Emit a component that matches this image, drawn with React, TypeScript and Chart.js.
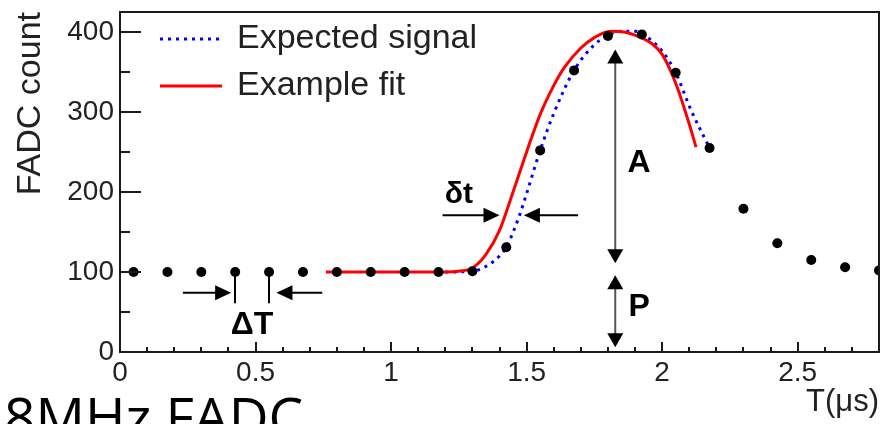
import React, { useEffect, useRef } from "react";
import { Chart, registerables } from "chart.js";

Chart.register(...registerables);

// ---- data ----
const sampleTimes = [0.05, 0.175, 0.3, 0.425, 0.55, 0.675, 0.8, 0.925, 1.05, 1.175, 1.3, 1.425, 1.55, 1.675, 1.8, 1.925, 2.05, 2.175, 2.3, 2.425, 2.55, 2.675, 2.8];
const sampleCounts = [100, 100, 100, 100, 100, 100, 100, 100, 100, 100, 101, 131, 252, 352, 395, 397, 349, 255, 179, 136, 115, 106, 102];

const expectedTimes = [1.2, 1.3, 1.35, 1.4, 1.425, 1.475, 1.5, 1.55, 1.6, 1.675, 1.75, 1.8, 1.85, 1.9, 1.925, 2.0, 2.05, 2.107, 2.175];
const expectedCounts = [100, 101, 107, 120, 131, 172, 198, 252, 298, 352, 384, 396, 401, 401, 398, 376, 349, 302, 255];

const fitTimes = [0.76, 1.0, 1.2, 1.25, 1.3, 1.35, 1.4, 1.45, 1.5, 1.55, 1.6, 1.64, 1.7, 1.75, 1.81, 1.86, 1.9, 1.96, 2.0, 2.05, 2.1, 2.125];
const fitCounts = [100, 100, 100, 101, 105, 122, 152, 200, 250, 297, 333, 356, 380, 393, 401, 400, 396, 386, 372, 336, 285, 256];

const legendLabels = ["Expected signal", "Example fit"];
const xTitle = "T(μs)";
const yTitle = "FADC count";
const footerText = "8MHz FADC";

const xMin = 0, xMax = 2.8, xMajor = 0.5, xMinor = 0.1;
const yMin = 0, yMax = 425, yMajor = 100, yMinor = 50;

// annotation anchors (data units)
const deltaTMarkers = [0.425, 0.55];
const deltaTMarkerRange = [100, 61];
const deltaTArrowY = 74;
const deltaTArrows = [[0.232, 0.41], [0.746, 0.577]]; // [tail, tip]
const deltaTLabel = { text: "ΔT", x: 0.487, y: 34 };
const smallDtArrowY = 171;
const smallDtArrows = [[1.19, 1.40], [1.69, 1.49]];
const smallDtLabel = { text: "δt", x: 1.25, y: 197 };
const ampX = 1.827;
const ampArrow = [111, 378]; // bottom tip, top tip
const pedArrow = [6, 96];
const ampLabel = { text: "A", x: 1.915, y: 236 };
const pedLabel = { text: "P", x: 1.915, y: 56 };

const AXIS = "#1a1a1a";
const TEXT = "#222";
const SANS = '"Liberation Sans", Arial, Helvetica, sans-serif';

function head(ctx: CanvasRenderingContext2D, tx: number, ty: number, dx: number, dy: number, len: number, half: number) {
  const bx = tx - dx * len, by = ty - dy * len;
  const px = -dy, py = dx;
  ctx.beginPath();
  ctx.moveTo(tx, ty);
  ctx.lineTo(bx + px * half, by + py * half);
  ctx.lineTo(bx - px * half, by - py * half);
  ctx.closePath();
  ctx.fill();
}

function arrow(ctx: CanvasRenderingContext2D, x1: number, y1: number, x2: number, y2: number, color: string, len = 16, half = 7.5) {
  const L = Math.hypot(x2 - x1, y2 - y1);
  const dx = (x2 - x1) / L, dy = (y2 - y1) / L;
  ctx.strokeStyle = color;
  ctx.lineWidth = 2;
  ctx.beginPath();
  ctx.moveTo(x1, y1);
  ctx.lineTo(x2 - dx * len * 0.8, y2 - dy * len * 0.8);
  ctx.stroke();
  ctx.fillStyle = "#000";
  head(ctx, x2, y2, dx, dy, len, half);
}

function doubleArrow(ctx: CanvasRenderingContext2D, x: number, yA: number, yB: number, color: string) {
  const len = 14, half = 8;
  ctx.strokeStyle = color;
  ctx.lineWidth = 2;
  ctx.beginPath();
  ctx.moveTo(x, yB + len * 0.8);
  ctx.lineTo(x, yA - len * 0.8);
  ctx.stroke();
  ctx.fillStyle = "#000";
  head(ctx, x, yA, 0, 1, len, half);
  head(ctx, x, yB, 0, -1, len, half);
}

const decor = {
  id: "decor",
  afterDatasetsDraw(chart: any) {
    const { ctx, chartArea: ca } = chart;
    const xs = chart.scales.x, ys = chart.scales.y;
    const X = (v: number) => xs.getPixelForValue(v);
    const Y = (v: number) => ys.getPixelForValue(v);
    ctx.save();

    // frame
    ctx.strokeStyle = AXIS;
    ctx.lineWidth = 2;
    ctx.beginPath();
    ctx.moveTo(ca.left, ca.top);
    ctx.lineTo(ca.right, ca.top);
    ctx.lineTo(ca.right, ca.bottom);
    ctx.stroke();

    // inward ticks
    ctx.lineWidth = 2;
    ctx.beginPath();
    const nx = Math.round((xMax - xMin) / xMinor);
    for (let i = 0; i <= nx; i++) {
      const v = xMin + i * xMinor;
      const major = Math.abs(v / xMajor - Math.round(v / xMajor)) < 1e-6;
      const px = Math.round(X(v));
      ctx.moveTo(px, ca.bottom);
      ctx.lineTo(px, ca.bottom - (major ? 10 : 5));
    }
    const ny = Math.floor((yMax - yMin) / yMinor);
    for (let i = 0; i <= ny; i++) {
      const v = yMin + i * yMinor;
      const major = v % yMajor === 0;
      const py = Math.round(Y(v));
      ctx.moveTo(ca.left, py);
      ctx.lineTo(ca.left + (major ? 21 : 10), py);
    }
    ctx.stroke();

    // legend
    const lx0 = ca.left + 40, lx1 = ca.left + 102;
    ctx.lineWidth = 3;
    ctx.strokeStyle = "#0000ff";
    ctx.setLineDash([3, 5]);
    ctx.beginPath();
    ctx.moveTo(lx0, ca.top + 27);
    ctx.lineTo(lx1, ca.top + 27);
    ctx.stroke();
    ctx.setLineDash([]);
    ctx.strokeStyle = "#ff0000";
    ctx.beginPath();
    ctx.moveTo(lx0, ca.top + 74);
    ctx.lineTo(lx1, ca.top + 74);
    ctx.stroke();
    ctx.fillStyle = TEXT;
    ctx.font = `34px ${SANS}`;
    ctx.textAlign = "left";
    ctx.textBaseline = "alphabetic";
    ctx.fillText(legendLabels[0], ca.left + 117, ca.top + 36);
    ctx.fillText(legendLabels[1], ca.left + 117, ca.top + 83);

    // ΔT markers and arrows
    ctx.strokeStyle = "#000";
    ctx.lineWidth = 2;
    ctx.beginPath();
    for (const m of deltaTMarkers) {
      ctx.moveTo(Math.round(X(m)), Y(deltaTMarkerRange[0]));
      ctx.lineTo(Math.round(X(m)), Y(deltaTMarkerRange[1]));
    }
    ctx.stroke();
    for (const [a, b] of deltaTArrows) arrow(ctx, X(a), Y(deltaTArrowY), X(b), Y(deltaTArrowY), "#000");
    for (const [a, b] of smallDtArrows) arrow(ctx, X(a), Y(smallDtArrowY), X(b), Y(smallDtArrowY), "#000");

    // amplitude / pedestal
    doubleArrow(ctx, X(ampX), Y(ampArrow[0]), Y(ampArrow[1]), "#555");
    doubleArrow(ctx, X(ampX), Y(pedArrow[0]), Y(pedArrow[1]), "#555");

    // labels
    ctx.fillStyle = "#000";
    ctx.textAlign = "center";
    ctx.textBaseline = "middle";
    ctx.font = `bold 32px ${SANS}`;
    for (const l of [deltaTLabel, ampLabel, pedLabel]) ctx.fillText(l.text, X(l.x), Y(l.y));
    ctx.font = `bold 30px ${SANS}`;
    ctx.fillText(smallDtLabel.text, X(smallDtLabel.x), Y(smallDtLabel.y));

    // footer text (cut by the bottom edge)
    ctx.textAlign = "left";
    ctx.textBaseline = "alphabetic";
    ctx.fillStyle = "#000";
    ctx.font = `55px "Open Sans", "Noto Sans", sans-serif`;
    ctx.fillText(footerText, 4, chart.height + 13);

    ctx.restore();
  },
};

const fmt = (v: any) => String(Number(v));

export default function App() {
  const ref = useRef<HTMLCanvasElement | null>(null);
  useEffect(() => {
    if (!ref.current) return;
    const pts = (xs: number[], ys: number[]) => xs.map((x, i) => ({ x, y: ys[i] }));
    const chart = new Chart(ref.current, {
      type: "scatter",
      data: {
        datasets: [
          {
            label: "Samples",
            data: pts(sampleTimes, sampleCounts),
            pointRadius: 5,
            pointHoverRadius: 5,
            pointBackgroundColor: "#000",
            pointBorderWidth: 0,
            showLine: false,
            order: 0,
          },
          {
            label: legendLabels[1],
            data: pts(fitTimes, fitCounts),
            showLine: true,
            borderColor: "#ff0000",
            borderWidth: 3,
            pointRadius: 0,
            cubicInterpolationMode: "monotone",
            order: 1,
          },
          {
            label: legendLabels[0],
            data: pts(expectedTimes, expectedCounts),
            showLine: true,
            borderColor: "#0000ff",
            borderWidth: 3,
            borderDash: [3, 5],
            pointRadius: 0,
            cubicInterpolationMode: "monotone",
            order: 2,
          },
        ] as any,
      },
      options: {
        responsive: false,
        animation: false,
        events: [],
        layout: { padding: { top: 12, right: 3, left: 0, bottom: 0 } },
        plugins: { legend: { display: false }, tooltip: { enabled: false } },
        scales: {
          x: {
            type: "linear",
            min: xMin,
            max: xMax,
            afterFit: (s: any) => { s.height = 72; s.paddingLeft = 0; s.paddingRight = 0; },
            grid: { display: false, drawTicks: false },
            border: { display: true, color: AXIS, width: 2 },
            ticks: {
              stepSize: xMajor,
              includeBounds: false,
              padding: 4,
              color: TEXT,
              maxRotation: 0,
              autoSkip: false,
              callback: fmt,
              font: { family: SANS, size: 28 },
            },
            title: {
              display: true,
              text: xTitle,
              align: "end",
              color: TEXT,
              font: { family: SANS, size: 31 },
              padding: { top: 0, bottom: 3 },
            },
          },
          y: {
            type: "linear",
            min: yMin,
            max: yMax,
            afterFit: (s: any) => { s.width = 120; s.paddingTop = 0; s.paddingBottom = 0; },
            grid: { display: false, drawTicks: false },
            border: { display: true, color: AXIS, width: 2 },
            ticks: {
              stepSize: yMajor,
              includeBounds: false,
              padding: 6,
              color: TEXT,
              callback: fmt,
              font: { family: SANS, size: 28 },
            },
            title: {
              display: true,
              text: yTitle,
              align: "end",
              color: TEXT,
              font: { family: SANS, size: 34 },
              padding: { top: 10, bottom: 0 },
            },
          },
        },
      } as any,
      plugins: [decor],
    });
    return () => chart.destroy();
  }, []);
  return (
    <div style={{ position: "fixed", left: 0, top: 0, width: 884, height: 424, background: "#fff", overflow: "hidden" }}>
      <canvas ref={ref} width={884} height={424} style={{ display: "block" }} />
    </div>
  );
}
